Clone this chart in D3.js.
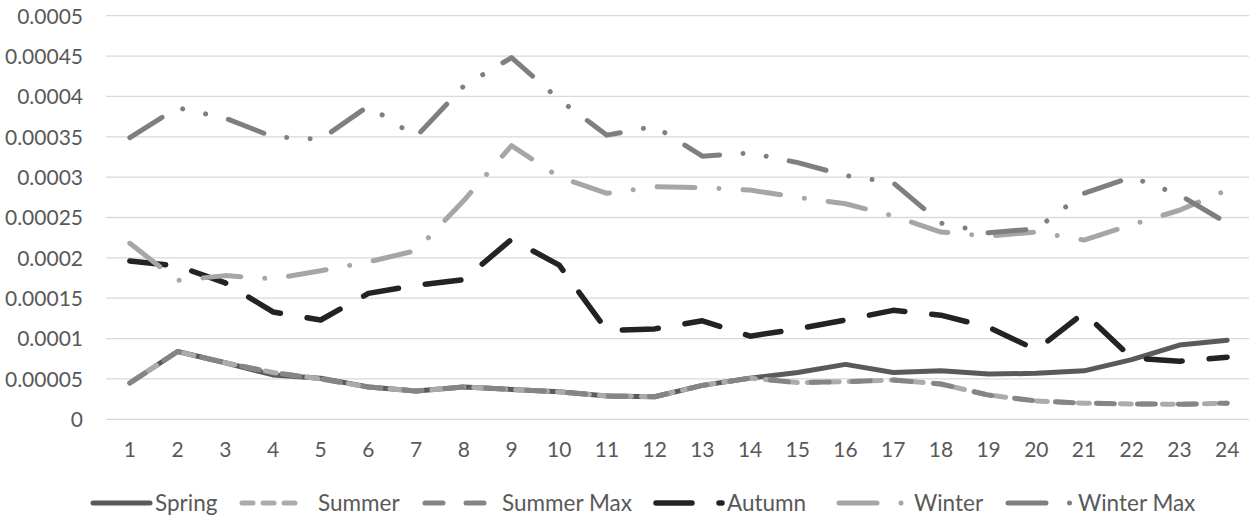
<!DOCTYPE html>
<html>
<head>
<meta charset="utf-8">
<script src="https://cdn.jsdelivr.net/npm/d3@7"></script>
<style>
  html, body { margin: 0; padding: 0; background: #fff; }
  svg { display: block; }
  text { font-family: Lato, "Open Sans", sans-serif; fill: #595959; }
</style>
</head>
<body>
<svg id="chart" width="1249" height="518"></svg>
<script>
// Hours of the day
const hours = d3.range(1, 25).map(String);

// Series values per hour
const spring = [0.000045, 0.000084, 0.00007, 0.000055, 0.000051, 0.00004, 0.000035, 0.00004, 0.000037, 0.000034, 0.000029, 0.000028,
                0.000042, 0.000051, 0.000058, 0.000068, 0.000058, 0.00006, 0.000056, 0.000057, 0.00006, 0.000074, 0.000092, 0.000098];
const summer = [0.000045, 0.000084, 0.00007, 0.000058, 0.00005, 0.00004, 0.000035, 0.00004, 0.000037, 0.000034, 0.000029, 0.000028,
                0.000042, 0.000051, 0.0000455, 0.0000466, 0.0000487, 0.0000437, 0.00003, 0.0000227, 0.00002, 0.000019, 0.0000186, 0.00002];
const summerMax = [0.000045, 0.000084, 0.00007, 0.000058, 0.00005, 0.00004, 0.000035, 0.00004, 0.000037, 0.000034, 0.000029, 0.000028,
                   0.000042, 0.000051, 0.0000455, 0.0000466, 0.0000487, 0.0000437, 0.00003, 0.0000227, 0.00002, 0.000019, 0.0000186, 0.00002];
const autumn = [0.000196, 0.00019, 0.000169, 0.000133, 0.000123, 0.000156, 0.000166, 0.000173, 0.000223, 0.000191, 0.00011, 0.000112,
                0.000122, 0.000103, 0.000112, 0.000123, 0.000135, 0.000129, 0.000114, 0.000086, 0.000132, 0.000076, 0.000072, 0.000077];
const winter = [0.000218, 0.000172, 0.000178, 0.000174, 0.000184, 0.000195, 0.000209, 0.000271, 0.000339, 0.0003, 0.00028, 0.000288,
                0.000287, 0.000284, 0.000275, 0.000267, 0.000252, 0.000232, 0.000227, 0.000232, 0.000222, 0.000241, 0.000259, 0.000284];
const winterMax = [0.000349, 0.000386, 0.000373, 0.00035, 0.000347, 0.000388, 0.00035, 0.000413, 0.000448, 0.000396, 0.000352, 0.000363,
                   0.000326, 0.00033, 0.000318, 0.000302, 0.000293, 0.000243, 0.000231, 0.000236, 0.00028, 0.0003, 0.000278, 0.000243];

// Value axis ticks
const yTicks = [0, 0.00005, 0.0001, 0.00015, 0.0002, 0.00025, 0.0003, 0.00035, 0.0004, 0.00045, 0.0005];
const yTickLabels = ["0", "0.00005", "0.0001", "0.00015", "0.0002", "0.00025", "0.0003", "0.00035", "0.0004", "0.00045", "0.0005"];

const seriesNames = ["Spring", "Summer", "Summer Max", "Autumn", "Winter", "Winter Max"];
const seriesValues = [spring, summer, summerMax, autumn, winter, winterMax];

// Stroke styles for each series
const styles = {
  "Spring":     { color: "#5a5a5a", width: 5, dash: null },
  "Summer":     { color: "#ababab", width: 5, dash: "11 10" },
  "Summer Max": { color: "#858585", width: 5, dash: "18 23" },
  "Autumn":     { color: "#232323", width: 5.5, dash: "36 27" },
  "Winter":     { color: "#a6a6a6", width: 5, dash: "38 24 0.01 24" },
  "Winter Max": { color: "#7f7f7f", width: 5, dash: "38 23.5 0.01 23.5 0.01 23.5" }
};

const svg = d3.select("#chart");
const plot = { left: 106, right: 1251, top: 15.7, bottom: 419.3 };

const x = d3.scaleBand().domain(hours).range([plot.left, plot.right]).padding(0);
const y = d3.scaleLinear().domain([0, 0.0005]).range([plot.bottom, plot.top]);
const cx = h => x(h) + x.bandwidth() / 2;

// Horizontal gridlines
svg.append("g")
  .selectAll("line")
  .data(yTicks)
  .join("line")
  .attr("x1", plot.left).attr("x2", plot.right)
  .attr("y1", d => y(d)).attr("y2", d => y(d))
  .attr("stroke", "#d9d9d9").attr("stroke-width", 1.3);

// Value axis labels
const yAxis = d3.axisLeft(y)
  .tickValues(yTicks)
  .tickFormat((d, i) => yTickLabels[i])
  .tickSize(0).tickPadding(0);
const yg = svg.append("g").attr("transform", "translate(83,0)").call(yAxis);
yg.select(".domain").remove();
yg.selectAll("text").style("font-size", "21px").attr("fill", "#595959").attr("dy", "0.35em");

// Category axis labels
const xAxis = d3.axisBottom(x).tickSize(0).tickPadding(0);
const xg = svg.append("g").attr("transform", "translate(0,442)").call(xAxis);
xg.select(".domain").remove();
xg.selectAll("text").style("font-size", "21px").attr("fill", "#595959").attr("dy", "0.71em");

// Series lines
const line = d3.line().x((d, i) => cx(hours[i])).y(d => y(d));
seriesNames.forEach((name, k) => {
  const s = styles[name];
  svg.append("path")
    .datum(seriesValues[k])
    .attr("d", line)
    .attr("fill", "none")
    .attr("stroke", s.color)
    .attr("stroke-width", s.width)
    .attr("stroke-linecap", "round")
    .attr("stroke-linejoin", "round")
    .attr("stroke-dasharray", s.dash);
});

// Legend: text start and sample-line extent (relative to the text) per entry
const legendTextX = [155, 318, 502, 727, 914, 1078];
const legendSample = [[-62, -5], [-76, -15], [-77, -13], [-71, -5], [-75, -12], [-70, -5]];
const legendY = 503;
const lg = svg.append("g");
seriesNames.forEach((name, k) => {
  const s = styles[name];
  const tx = legendTextX[k];
  lg.append("line")
    .attr("x1", tx + legendSample[k][0]).attr("x2", tx + legendSample[k][1])
    .attr("y1", legendY).attr("y2", legendY)
    .attr("stroke", s.color)
    .attr("stroke-width", s.width)
    .attr("stroke-linecap", "round")
    .attr("stroke-dasharray", s.dash);
  lg.append("text")
    .attr("x", tx).attr("y", legendY)
    .attr("dy", "0.35em")
    .style("font-size", "22.5px")
    .text(name);
});
</script>
</body>
</html>
